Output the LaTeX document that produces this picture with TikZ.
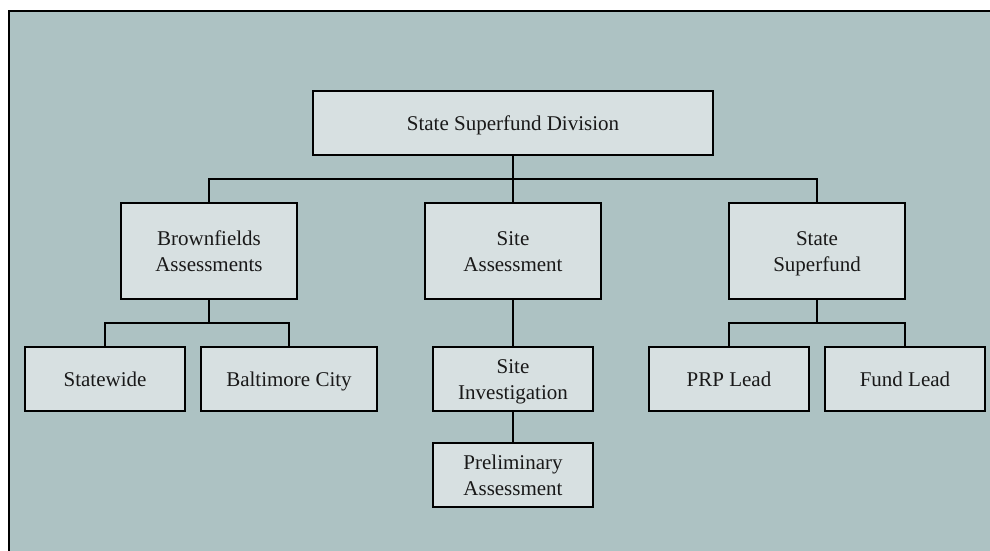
\documentclass[tikz,border=0pt]{standalone}
\usepackage{fontspec}
\setmainfont{Liberation Serif}
\definecolor{panel}{HTML}{ADC2C3}
\definecolor{boxfill}{HTML}{D7E0E1}
\begin{document}
\begin{tikzpicture}[x=1pt,y=-1pt,line join=miter,line width=2pt,
	unit/.style={draw=black,fill=boxfill,align=center,inner sep=0pt,
		text height=14pt,text depth=0pt,
		font=\fontsize{21}{26}\selectfont,text=black!90},
	two/.style={text height=40pt},
	wide/.style={unit,minimum width=400pt,minimum height=64pt},
	mid/.style={unit,two,minimum width=176pt,minimum height=96pt},
	low/.style={unit,minimum width=160pt,minimum height=64pt}]
	\useasboundingbox (0,0) rectangle (990,550);
	\clip (0,0) rectangle (990,550);
	\draw[fill=panel] (9,11) rectangle (1010,570);
	\node[wide] (div) at (513,123) {State Superfund Division};
	\node[mid] (brown) at (209,251) {Brownfields\\Assessments};
	\node[mid] (site) at (513,251) {Site\\Assessment};
	\node[mid] (sfund) at (817,251) {State\\Superfund};
	\node[low] (state) at (105,379) {Statewide};
	\node[low,minimum width=176pt] (balt) at (289,379) {Baltimore City};
	\node[low,two] (inv) at (513,379) {Site\\Investigation};
	\node[low,two] (prelim) at (513,475) {Preliminary\\Assessment};
	\node[low] (prp) at (729,379) {PRP Lead};
	\node[low] (fund) at (905,379) {Fund Lead};
	\coordinate (top) at (513,179);
	\coordinate (left) at (209,323);
	\coordinate (right) at (817,323);
	\draw (div.south) -- (site.north);
	\draw (brown.north) |- (top) -| (sfund.north);
	\draw (brown.south) -- (left);
	\draw (state.north) |- (left) -| (balt.north);
	\draw (site.south) -- (inv.north);
	\draw (inv.south) -- (prelim.north);
	\draw (sfund.south) -- (right);
	\draw (prp.north) |- (right) -| (fund.north);
\end{tikzpicture}
\end{document}
